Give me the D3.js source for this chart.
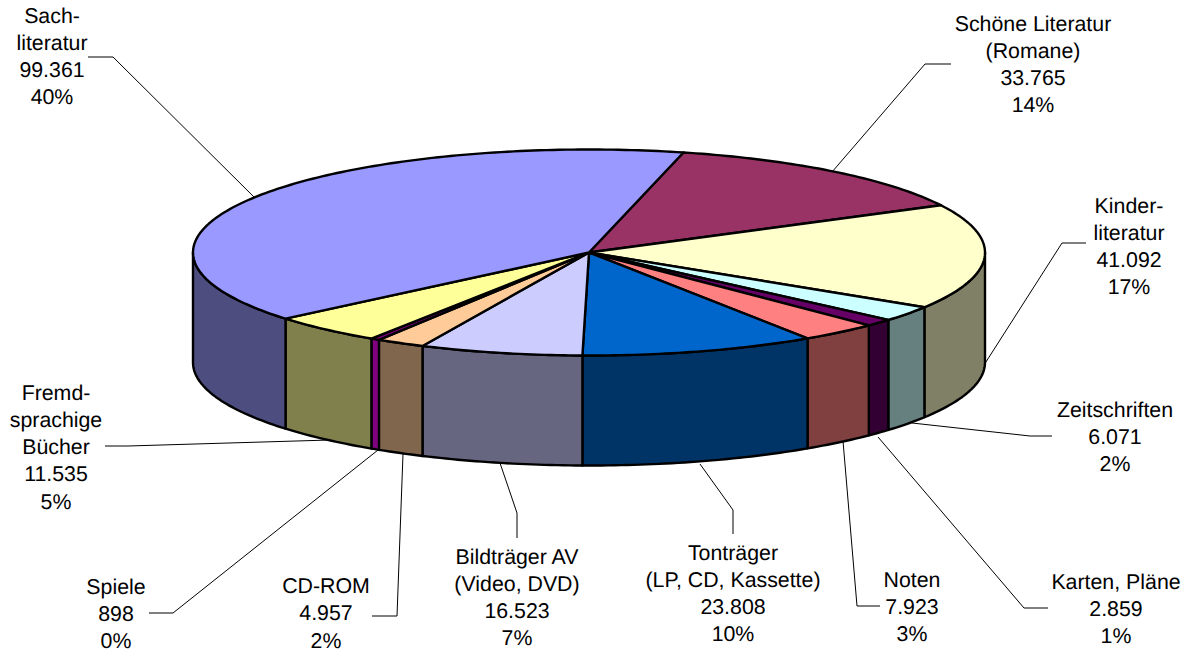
<!DOCTYPE html>
<html><head><meta charset="utf-8">
<script src="https://cdn.jsdelivr.net/npm/d3@7"></script>
<style>html,body{margin:0;padding:0;background:#fff}svg{display:block}
text{font-family:"Liberation Sans",Arial,sans-serif;font-size:21.33px;fill:#000;text-rendering:geometricPrecision}</style>
</head><body><div id="c"></div>
<script>
const categories=["Schöne Literatur (Romane)","Kinderliteratur","Zeitschriften","Karten, Pläne","Noten","Tonträger (LP, CD, Kassette)","Bildträger AV (Video, DVD)","CD-ROM","Spiele","Fremdsprachige Bücher","Sachliteratur"];
const values=[33765,41092,6071,2859,7923,23808,16523,4957,898,11535,99361];
const valueLabels=["33.765","41.092","6.071","2.859","7.923","23.808","16.523","4.957","898","11.535","99.361"];
const percentLabels=["14%","17%","2%","1%","3%","10%","7%","2%","0%","5%","40%"];
const nameLines=[["Schöne Literatur","(Romane)"],["Kinder-","literatur"],["Zeitschriften"],["Karten, Pläne"],["Noten"],["Tonträger","(LP, CD, Kassette)"],["Bildträger AV","(Video, DVD)"],["CD-ROM"],["Spiele"],["Fremd-","sprachige","Bücher"],["Sach-","literatur"]];
const topColors=["#993366","#FFFFCC","#CCFFFF","#660066","#FF8080","#0066CC","#CCCCFF","#FFCC99","#800080","#FFFF99","#9999FF"];
const sideColors=["#4D1A33","#808066","#668080","#330033","#804040","#003366","#666680","#80664D","#800080","#80804D","#4D4D80"];
const labelAnchors=[[1033,23],[1129,205],[1115,409],[1116,581],[912,579],[733,552],[517,556],[326,585.5],[116,586],[56,392],[52,15]];
const leaders=[
 [[951,64],[925,64],[832,172]],
 [[1086,243],[1062,243],[984,365]],
 [[1052,436],[1030,436],[912,423]],
 [[1048,608],[1024,608],[878,437]],
 [[880,606],[857,606],[843,441]],
 [[733,534],[733,510],[700,464]],
 [[517,538],[517,513],[500,463]],
 [[372,616],[397,616],[403,454]],
 [[149,613],[173,613],[378,450]],
 [[105,446],[128,446],[330,440]],
 [[88,57],[113,57],[254,197]]];

const W=1188,H=652,cx=589,cy=252.5,rx=396,ry=103,depth=110;
const svg=d3.select("#c").append("svg").attr("width",W).attr("height",H);
const start=13.8*Math.PI/180;
const arcs=d3.pie().sort(null).startAngle(start).endAngle(start+2*Math.PI)(values);
const px=a=>cx+rx*Math.sin(a), py=a=>cy-ry*Math.cos(a);
const sample=(a,b)=>{const n=Math.max(2,Math.ceil(Math.abs(b-a)*60));return d3.range(n+1).map(i=>a+(b-a)*i/n);};
const line=d3.line();
const TAU=2*Math.PI;

// sides (visible half: angle between 90° and 270°)
const g=svg.append("g").attr("stroke","#000").attr("stroke-linejoin","round");
const sideData=[];
arcs.forEach((d,i)=>{
  [0,TAU].forEach(k=>{
    const a=Math.max(d.startAngle-k,Math.PI/2), b=Math.min(d.endAngle-k,1.5*Math.PI);
    if(b>a) sideData.push({a,b,i});
  });
});
g.selectAll("path.side").data(sideData).join("path").attr("class","side")
 .attr("fill",d=>sideColors[d.i]).attr("stroke-width",2.4)
 .attr("d",d=>{
   const s=sample(d.a,d.b);
   const pts=s.map(a=>[px(a),py(a)]).concat(s.slice().reverse().map(a=>[px(a),py(a)+depth]));
   return line(pts)+"Z";
 });
// top
g.selectAll("path.top").data(arcs).join("path").attr("class","top")
 .attr("fill",(d,i)=>topColors[i]).attr("stroke-width",2.4)
 .attr("d",d=>line([[cx,cy]].concat(sample(d.startAngle,d.endAngle).map(a=>[px(a),py(a)])))+"Z");

// leaders
svg.append("g").selectAll("path").data(leaders).join("path")
 .attr("fill","none").attr("stroke","#000").attr("stroke-width",1)
 .attr("d",d=>line(d));

// labels
const gl=svg.append("g").attr("text-anchor","middle");
categories.forEach((c,i)=>{
  const ls=nameLines[i].concat([valueLabels[i],percentLabels[i]]);
  ls.forEach((t,j)=>{
    gl.append("text").attr("x",labelAnchors[i][0]).attr("y",labelAnchors[i][1]+j*27.3+7.5).text(t);
  });
});
</script></body></html>
